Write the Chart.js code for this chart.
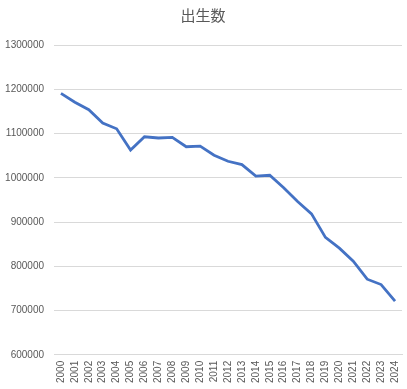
<!DOCTYPE html>
<html>
<head>
<meta charset="utf-8">
<script src="https://cdn.jsdelivr.net/npm/chart.js@4"></script>
<style>
  html, body { margin: 0; padding: 0; background: #fff; }
  #wrap { width: 407px; height: 389px; }
</style>
</head>
<body>
<div id="wrap"><canvas id="birthChart" width="407" height="389"></canvas></div>
<script>
  // ── Data ───────────────────────────────────────────────────
  const years = ['2000','2001','2002','2003','2004','2005','2006','2007','2008','2009',
                 '2010','2011','2012','2013','2014','2015','2016','2017','2018','2019',
                 '2020','2021','2022','2023','2024'];
  const births = [1190547, 1170662, 1153855, 1123610, 1110721, 1062530, 1092674, 1089818,
                  1091156, 1070035, 1071304, 1050806, 1037231, 1029816, 1003539, 1005677,
                  977242, 946146, 918400, 865239, 840835, 811622, 770759, 758631, 720988];
  const yTicks = [600000, 700000, 800000, 900000, 1000000, 1100000, 1200000, 1300000];
  const titleText = '出生数';

  // ── Chart ──────────────────────────────────────────────────
  const ctx = document.getElementById('birthChart').getContext('2d');
  new Chart(ctx, {
    type: 'line',
    data: {
      labels: years,
      datasets: [{
        data:        births,
        borderColor: '#4472C4',
        borderWidth: 2.8,
        pointRadius: 0,
        tension:     0,
        fill:        false
      }]
    },
    options: {
      responsive: false,
      animation:  false,
      layout: { padding: { left: 4, right: 5, top: 4, bottom: 0 } },
      plugins: {
        legend:  { display: false },
        tooltip: { enabled: false },
        title: {
          display: true,
          text:    titleText,
          color:   '#595959',
          font:    { family: '"Noto Sans CJK JP", "Noto Sans", sans-serif', size: 15, weight: 'normal' },
          padding: { top: 2, bottom: 21 }
        }
      },
      scales: {
        x: {
          offset: true,
          afterFit: axis => { axis.paddingLeft = 0; axis.paddingRight = 0; },
          grid:   { display: false, drawTicks: false },
          border: { display: true, color: '#d9d9d9' },
          ticks: {
            color:       '#595959',
            font:        { family: '"Liberation Sans", Arial, sans-serif', size: 10 },
            minRotation: 90,
            maxRotation: 90,
            autoSkip:    false,
            padding:     6
          }
        },
        y: {
          min: yTicks[0],
          max: yTicks[yTicks.length - 1],
          afterBuildTicks: axis => { axis.ticks = yTicks.map(v => ({ value: v })); },
          afterFit: axis => { axis.width = 50; },
          grid:   { color: '#d9d9d9', drawTicks: false },
          border: { display: false },
          ticks: {
            color:    '#595959',
            font:     { family: '"Liberation Sans", Arial, sans-serif', size: 10 },
            padding:  10,
            callback: v => String(v)
          }
        }
      }
    }
  });
</script>
</body>
</html>
